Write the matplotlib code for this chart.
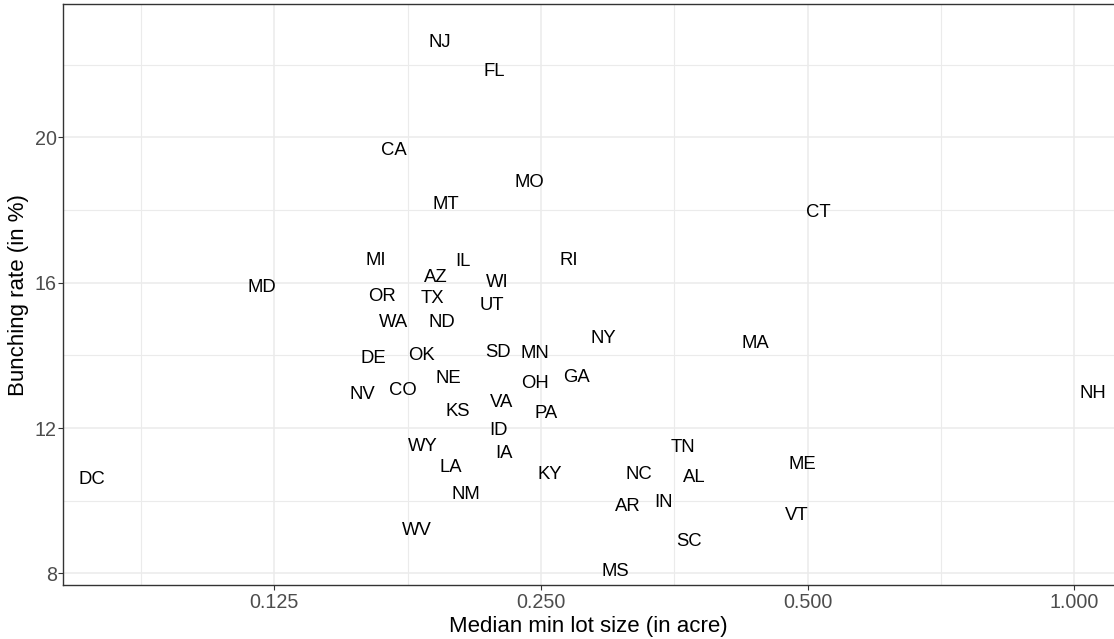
import matplotlib
matplotlib.use("Agg")
import matplotlib.pyplot as plt
from matplotlib.ticker import NullFormatter

plt.rcParams['font.family'] = ['Liberation Sans', 'DejaVu Sans']

# state labels, median min lot size (acre), bunching rate (%)
states = ['NJ', 'FL', 'CA', 'MO', 'MT', 'MI', 'IL', 'RI', 'AZ', 'WI',
          'OR', 'TX', 'UT', 'WA', 'ND', 'NY', 'DE', 'OK', 'SD', 'MN',
          'NE', 'OH', 'GA', 'NV', 'CO', 'VA', 'KS', 'PA', 'ID', 'WY',
          'IA', 'LA', 'KY', 'NM', 'WV', 'MS', 'MA', 'TN', 'NC', 'AL',
          'ME', 'AR', 'IN', 'VT', 'SC', 'CT', 'NH', 'MD', 'DC']
lot_size = [0.1923, 0.2213, 0.1706, 0.2423, 0.1953, 0.1628, 0.2043, 0.2687, 0.1902, 0.2232,
            0.1654, 0.1883, 0.2201, 0.1706, 0.1931, 0.2940, 0.1616, 0.1834, 0.2236, 0.2463,
            0.1965, 0.2463, 0.2740, 0.1573, 0.1747, 0.2255, 0.2013, 0.2533, 0.2237, 0.1841,
            0.2273, 0.1977, 0.2555, 0.2057, 0.1811, 0.3036, 0.4368, 0.3613, 0.3228, 0.3724,
            0.4930, 0.3132, 0.3435, 0.4859, 0.3673, 0.5140, 1.0504, 0.1210, 0.0778]
bunching = [22.66, 21.85, 19.68, 18.81, 18.21, 16.66, 16.62, 16.66, 16.18, 16.05,
            15.66, 15.62, 15.41, 14.95, 14.95, 14.50, 13.96, 14.04, 14.13, 14.10,
            13.41, 13.27, 13.45, 12.96, 13.07, 12.74, 12.50, 12.44, 11.97, 11.53,
            11.35, 10.95, 10.76, 10.23, 9.22, 8.10, 14.36, 11.52, 10.77, 10.69,
            11.05, 9.88, 10.00, 9.64, 8.92, 17.98, 13.00, 15.92, 10.64]

x_breaks = [0.125, 0.25, 0.5, 1.0]
x_labels = ['0.125', '0.250', '0.500', '1.000']
x_minor = [0.0884, 0.1768, 0.3536, 0.7071]
y_breaks = [8, 12, 16, 20]
y_minor = [10, 14, 18, 22]

fig = plt.figure(figsize=(11.14, 6.39), dpi=100)
ax = fig.add_axes([0.05682, 0.08451, 0.94318, 0.90876])

ax.set_xscale('log', base=2)
ax.set_xlim(0.07224, 1.1083)
ax.set_ylim(7.683, 23.659)

for x, y, s in zip(lot_size, bunching, states):
    ax.annotate(s, (x, y), xytext=(0, -1.2), textcoords='offset points',
                ha='center', va='center', fontsize=13.3, color='black')

ax.set_xticks(x_breaks)
ax.set_xticklabels(x_labels)
ax.set_xticks(x_minor, minor=True)
ax.xaxis.set_minor_formatter(NullFormatter())
ax.set_yticks(y_breaks)
ax.set_yticks(y_minor, minor=True)
ax.yaxis.set_minor_formatter(NullFormatter())

ax.grid(which='major', color='#EBEBEB', linewidth=1.1)
ax.grid(which='minor', color='#EBEBEB', linewidth=0.8)
ax.set_axisbelow(True)

ax.tick_params(which='major', length=3.3, width=0.8, color='#333333',
               labelcolor='#4D4D4D', labelsize=14.2)
ax.tick_params(axis='y', pad=1.5)
ax.tick_params(axis='x', pad=2.5)
ax.tick_params(which='minor', length=0)

for side in ['left', 'bottom', 'top']:
    ax.spines[side].set_color('#333333')
    ax.spines[side].set_linewidth(1.0)
ax.spines['right'].set_visible(False)

ax.set_xlabel('Median min lot size (in acre)', fontsize=16, color='black', labelpad=3)
ax.set_ylabel('Bunching rate (in %)', fontsize=16, color='black', labelpad=4)

fig.savefig('out.png', dpi=100)
